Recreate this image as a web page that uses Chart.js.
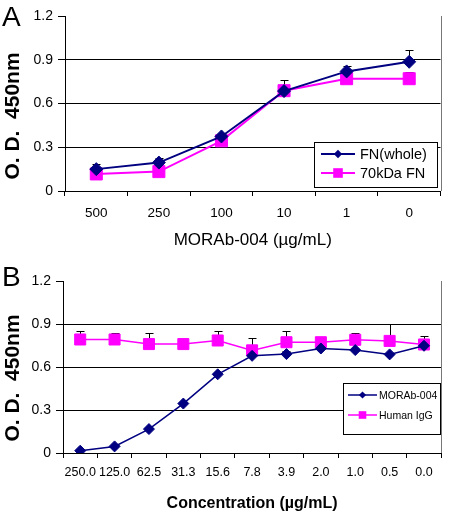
<!DOCTYPE html>
<html>
<head>
<meta charset="utf-8">
<script src="https://cdn.jsdelivr.net/npm/chart.js@4.4.0/dist/chart.umd.js"></script>
<style>
html, body { margin: 0; padding: 0; background: #fff; }
#wrap { position: relative; width: 450px; height: 517px; font-family: "Liberation Sans", Arial, sans-serif; color: #000; }
.panel { position: absolute; left: 0; width: 450px; }
#pA { top: 0; height: 255px; }
#pB { top: 255px; height: 262px; }
.letter { position: absolute; left: 2px; font-size: 28px; line-height: 1; }
.ytitle { position: absolute; font-weight: bold; font-size: 21px; white-space: pre; line-height: 1;
          transform: translate(-50%, -50%) rotate(-90deg); }
</style>
</head>
<body>
<div id="wrap">
  <div class="panel" id="pA"><canvas id="chartA" width="450" height="255"></canvas></div>
  <div class="panel" id="pB"><canvas id="chartB" width="450" height="262"></canvas></div>
  <div class="letter" style="top:3px">A</div>
  <div class="letter" style="top:263px">B</div>
  <div class="ytitle" style="left:11px;top:116px">O. D.  450nm</div>
  <div class="ytitle" style="left:11px;top:378px">O. D.  450nm</div>
</div>
<script>
// panel A data
const catsA = ['500', '250', '100', '10', '1', '0'];
const fnWhole = [0.15, 0.195, 0.374, 0.685, 0.82, 0.886];
const fnWholeErr = [0.035, 0.028, 0.016, 0.075, 0.04, 0.08];
const kda70 = [0.117, 0.133, 0.344, 0.688, 0.77, 0.77];
const kda70Err = [0.01, 0.01, 0.01, 0.02, 0.01, 0.047];

// panel B data
const catsB = ['250.0', '125.0', '62.5', '31.3', '15.6', '7.8', '3.9', '2.0', '1.0', '0.5', '0.0'];
const morab = [0.016, 0.046, 0.167, 0.345, 0.549, 0.678, 0.69, 0.729, 0.718, 0.688, 0.748];
const morabErr = [0.01, 0.01, 0.01, 0.01, 0.01, 0.02, 0.02, 0.01, 0.01, 0.01, 0.02];
const humanIgG = [0.792, 0.792, 0.76, 0.76, 0.785, 0.716, 0.773, 0.773, 0.79, 0.782, 0.757];
const humanIgGErr = [0.058, 0.048, 0.075, 0.01, 0.065, 0.084, 0.077, 0.01, 0.045, 0.118, 0.058];

const yTicks = [0, 0.3, 0.6, 0.9, 1.2];

const NAVY = '#000080';
const MAGENTA = '#ff00ff';
const FONT = '"Liberation Sans", Arial, sans-serif';

// upper error bars with a cap, drawn behind the lines
const errorBars = {
  id: 'errorBars',
  beforeDatasetsDraw(chart) {
    const ctx = chart.ctx;
    const y = chart.scales.y;
    ctx.save();
    ctx.strokeStyle = '#000';
    ctx.lineWidth = 1;
    chart.data.datasets.forEach((ds, i) => {
      const meta = chart.getDatasetMeta(i);
      meta.data.forEach((pt, j) => {
        const v = ds.data[j];
        const top = Math.round(y.getPixelForValue(v + ds.errPlus[j])) + 0.5;
        const x = Math.round(pt.x) + 0.5;
        ctx.beginPath();
        ctx.moveTo(x, pt.y);
        ctx.lineTo(x, top);
        ctx.moveTo(x - 4, top);
        ctx.lineTo(x + 4, top);
        ctx.stroke();
      });
    });
    ctx.restore();
  }
};

function marker(ctx, style, x, y, r) {
  ctx.beginPath();
  if (style === 'rectRot') {
    ctx.moveTo(x - r, y); ctx.lineTo(x, y - r); ctx.lineTo(x + r, y); ctx.lineTo(x, y + r);
  } else {
    ctx.rect(x - r, y - r, 2 * r, 2 * r);
  }
  ctx.closePath();
  ctx.fill();
}

// boxed legend sitting inside the plot, plus the grey right edge of the plot
const frame = {
  id: 'frame',
  afterDraw(chart, args, opts) {
    const ctx = chart.ctx;
    const a = chart.chartArea;
    ctx.save();
    ctx.strokeStyle = '#777';
    ctx.lineWidth = 1;
    ctx.beginPath();
    ctx.moveTo(Math.round(a.right) + 0.5, a.top);
    ctx.lineTo(Math.round(a.right) + 0.5, a.bottom);
    ctx.stroke();

    const b = opts.box;
    ctx.fillStyle = '#fff';
    ctx.fillRect(b.x, b.y, b.w, b.h);
    ctx.strokeStyle = '#000';
    ctx.strokeRect(b.x + 0.5, b.y + 0.5, b.w, b.h);
    ctx.font = opts.font;
    ctx.textBaseline = 'middle';
    chart.data.datasets.forEach((ds, i) => {
      const ry = opts.rows[i];
      ctx.strokeStyle = ds.borderColor;
      ctx.lineWidth = ds.borderWidth;
      ctx.beginPath();
      ctx.moveTo(opts.line[0], ry);
      ctx.lineTo(opts.line[1], ry);
      ctx.stroke();
      ctx.fillStyle = ds.borderColor;
      marker(ctx, ds.pointStyle, (opts.line[0] + opts.line[1]) / 2, ry, opts.marks[i]);
      ctx.fillStyle = '#000';
      ctx.fillText(ds.label, opts.textX, ry + 1);
    });
    ctx.restore();
  }
};

function series(label, data, err, color, style, radius, width) {
  return {
    label: label,
    data: data,
    errPlus: err,
    borderColor: color,
    backgroundColor: color,
    borderWidth: width,
    pointStyle: style,
    pointRadius: radius,
    pointHoverRadius: radius,
    pointBackgroundColor: color,
    pointBorderColor: color,
    pointBorderWidth: 1,
    tension: 0
  };
}

function makeChart(id, cats, datasets, o) {
  return new Chart(document.getElementById(id), {
    type: 'line',
    data: { labels: cats, datasets: datasets },
    plugins: [errorBars, frame],
    options: {
      responsive: false,
      animation: false,
      layout: { padding: o.padding },
      plugins: {
        legend: { display: false },
        tooltip: { enabled: false },
        frame: o.legend
      },
      scales: {
        x: {
          offset: true,
          grid: { offset: true, drawOnChartArea: false, drawTicks: true, tickLength: 5, color: '#000' },
          border: { display: true, color: '#000', width: 1 },
          ticks: { color: '#000', font: { family: FONT, size: o.xTickSize }, padding: o.xTickPad, maxRotation: 0, autoSkip: false },
          title: { display: true, text: o.xTitle, color: '#000', font: { family: FONT, size: o.xTitleSize, weight: o.xTitleWeight }, padding: { top: 0, bottom: 4 } },
          afterFit: s => { s.height = 64; }
        },
        y: {
          min: 0,
          max: 1.2,
          afterBuildTicks: s => { s.ticks = yTicks.map(v => ({ value: v })); },
          grid: {
            color: c => (c.tick && c.tick.value === 1.2 ? 'rgba(0,0,0,0)' : '#000'),
            tickColor: '#000',
            tickLength: 7,
            lineWidth: 1
          },
          border: { display: true, color: '#000', width: 1 },
          ticks: { color: '#000', font: { family: FONT, size: 14 }, padding: 5, callback: v => (v === 0 ? '0' : v.toFixed(1)) },
          afterFit: s => { s.width = o.yWidth; }
        }
      }
    }
  });
}

makeChart('chartA', catsA, [
  series('FN(whole)', fnWhole, fnWholeErr, NAVY, 'rectRot', 6.5, 2),
  series('70kDa FN', kda70, kda70Err, MAGENTA, 'rect', 8.5, 2)
], {
  padding: { top: 16, right: 8, left: 0, bottom: 0 },
  yWidth: 65,
  xTickSize: 13.5, xTickPad: 9,
  xTitle: 'MORAb-004 (\u00b5g/mL)', xTitleSize: 17, xTitleWeight: 'normal',
  legend: {
    box: { x: 314, y: 142, w: 123, h: 45 },
    rows: [154, 173],
    line: [321, 355],
    marks: [4.2, 4.8],
    textX: 360,
    font: '14.5px ' + FONT
  }
});

makeChart('chartB', catsB, [
  series('MORAb-004', morab, morabErr, NAVY, 'rectRot', 5.5, 1.5),
  series('Human IgG', humanIgG, humanIgGErr, MAGENTA, 'rect', 7.8, 1.5)
], {
  padding: { top: 26, right: 4, left: 0, bottom: 0 },
  yWidth: 63,
  xTickSize: 12.5, xTickPad: 7,
  xTitle: 'Concentration (\u00b5g/mL)', xTitleSize: 16, xTitleWeight: 'bold',
  legend: {
    box: { x: 343, y: 128, w: 97, h: 51 },
    rows: [140, 160],
    line: [348, 377],
    marks: [3.6, 3.8],
    textX: 379,
    font: '10.5px ' + FONT
  }
});
</script>
</body>
</html>
